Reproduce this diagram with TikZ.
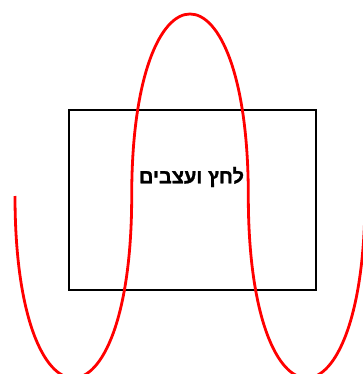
\documentclass[tikz,border=0pt]{standalone}
\usepackage{fontspec}
\setmainfont{Liberation Sans}
\newfontfamily\hebfont[Script=Hebrew, BoldFont={Liberation Sans Bold}, BoldFeatures={FakeBold=1.2}]{Liberation Sans}
\TeXXeTstate=1
\tikzset{
  frame box/.style={
    draw=black, line width=2.6pt,
    minimum width=247pt, minimum height=180pt,
    inner sep=0pt
  },
  wave line/.style={
    draw=red, line width=2.8pt
  },
  box label/.style={
    font=\hebfont\bfseries\fontsize{20}{22}\selectfont
  }
}
\begin{document}
\begin{tikzpicture}[x=1pt, y=-1pt]
  \useasboundingbox (0,0) rectangle (362,374);
  % frame and its label
  \node[frame box] (box) at (192.5,200) {};
  \node[box label] (label) at (191.5,177) {\beginR לחץ ועצבים\endR};
  % zero crossings of the wave
  \coordinate (w0) at (15,196);
  \coordinate (w1) at (131.7,196);
  \coordinate (w2) at (248.3,196);
  \coordinate (w3) at (365,196);
  % red wave
  \draw[wave line] (w0) .. controls ([yshift=-242.7pt]w0) and ([yshift=-242.7pt]w1) .. (w1)
    .. controls ([yshift=242.7pt]w1) and ([yshift=242.7pt]w2) .. (w2)
    .. controls ([yshift=-242.7pt]w2) and ([yshift=-242.7pt]w3) .. (w3);
\end{tikzpicture}
\end{document}
